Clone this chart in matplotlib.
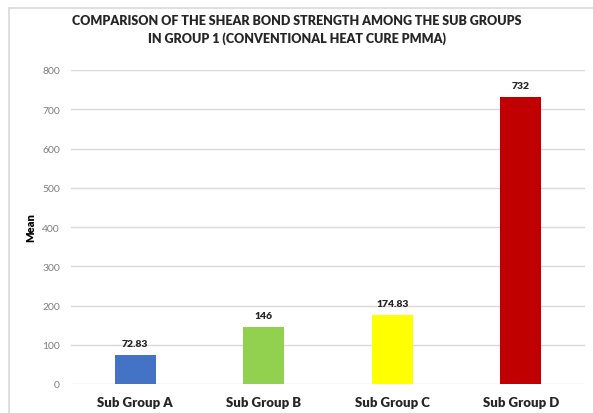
import matplotlib
matplotlib.use("Agg")
import matplotlib.pyplot as plt
from matplotlib.lines import Line2D

categories = ["Sub Group A", "Sub Group B", "Sub Group C", "Sub Group D"]
means = [72.83, 146, 174.83, 732]
value_labels = ["72.83", "146", "174.83", "732"]
bar_colors = ["#4472C4", "#92D050", "#FFFF00", "#C00000"]
yticks = [0, 100, 200, 300, 400, 500, 600, 700, 800]

plt.rcParams["font.family"] = ["Lato", "DejaVu Sans"]
BOLD = "heavy"

W, H = 593, 414
fig = plt.figure(figsize=(W / 100, H / 100), dpi=100)

# outer chart frame (top and left edges visible)
fig.add_artist(Line2D([9 / W, 9 / W], [0, 1 - 9 / H], transform=fig.transFigure,
                      color="#D9D9D9", lw=1.2))
fig.add_artist(Line2D([9 / W, 1], [1 - 9 / H, 1 - 9 / H], transform=fig.transFigure,
                      color="#D9D9D9", lw=1.2))

left, right = 71 / W, 585 / W
bottom, top = 1 - 385 / H, 1 - 71 / H
ax = fig.add_axes([left, bottom, right - left, top - bottom])

x = range(len(categories))
bars = ax.bar(x, means, width=0.32, color=bar_colors, zorder=3)
for b, lab in zip(bars, value_labels):
    ax.annotate(lab, (b.get_x() + b.get_width() / 2, b.get_height()),
                xytext=(0, 5), textcoords="offset points", ha="center", va="bottom",
                fontsize=7.5, fontweight=BOLD, color="#262626")

ax.set_xlim(-0.5, len(categories) - 0.5)
ax.set_ylim(0, 800)
ax.set_yticks(yticks)
ax.set_xticks(list(x))
ax.set_xticklabels(categories, fontsize=9.5, fontweight=BOLD, color="#262626")
ax.tick_params(axis="y", labelsize=7.5, labelcolor="#7F7F7F", length=0, pad=8)
ax.tick_params(axis="x", length=0, pad=9)
ax.grid(axis="y", color="#D9D9D9", lw=1, zorder=0)
for s in ax.spines.values():
    s.set_visible(False)
ax.set_ylabel("Mean", fontsize=8, fontweight=BOLD, labelpad=4)

fig.text(0.5, 1 - 30 / H, "COMPARISON OF THE SHEAR BOND STRENGTH AMONG THE SUB GROUPS\nIN GROUP 1 (CONVENTIONAL HEAT CURE PMMA)",
         ha="center", va="center", fontsize=9, fontweight=BOLD, color="#262626",
         linespacing=1.5)

fig.savefig("out.png", dpi=100)
